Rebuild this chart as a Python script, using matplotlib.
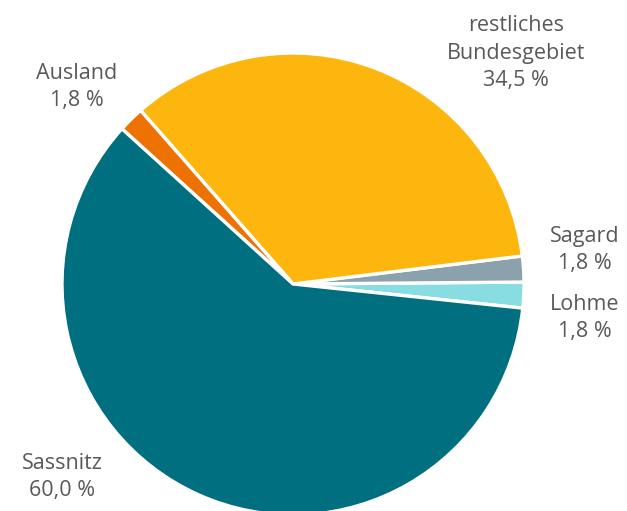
import matplotlib.pyplot as plt

# Herkunft (Anteile in %)
labels = ["Lohme", "Sagard", "restliches\nBundesgebiet", "Ausland", "Sassnitz"]
values = [1.8, 1.8, 34.5, 1.8, 60.0]
value_text = ["1,8 %", "1,8 %", "34,5 %", "1,8 %", "60,0 %"]
colors = ["#88DDE3", "#8BA1AC", "#FDB60D", "#EE7203", "#006F80"]

plt.rcParams["font.family"] = ["Open Sans", "DejaVu Sans"]

fig = plt.figure(figsize=(6.27, 5.11), dpi=100)
ax = fig.add_axes([0, 0, 1, 1])

ax.pie(values, colors=colors, startangle=-6, counterclock=True,
       center=(293, 227), radius=231, frame=True,
       wedgeprops={"edgecolor": "white", "linewidth": 2.4})
ax.set_xlim(0, 627)
ax.set_ylim(0, 511)
ax.set_aspect("equal")
ax.axis("off")

# label positions (pixels from top-left)
label_pos = [(585, 318), (585, 250), (516, 53), (77, 87), (62, 477)]
for lab, txt, (x, y) in zip(labels, value_text, label_pos):
    ax.text(x, 511 - y, lab + "\n" + txt, ha="center", va="center",
            fontsize=15.5, color="#595959", linespacing=1.42)

fig.savefig("out.png", dpi=100)
